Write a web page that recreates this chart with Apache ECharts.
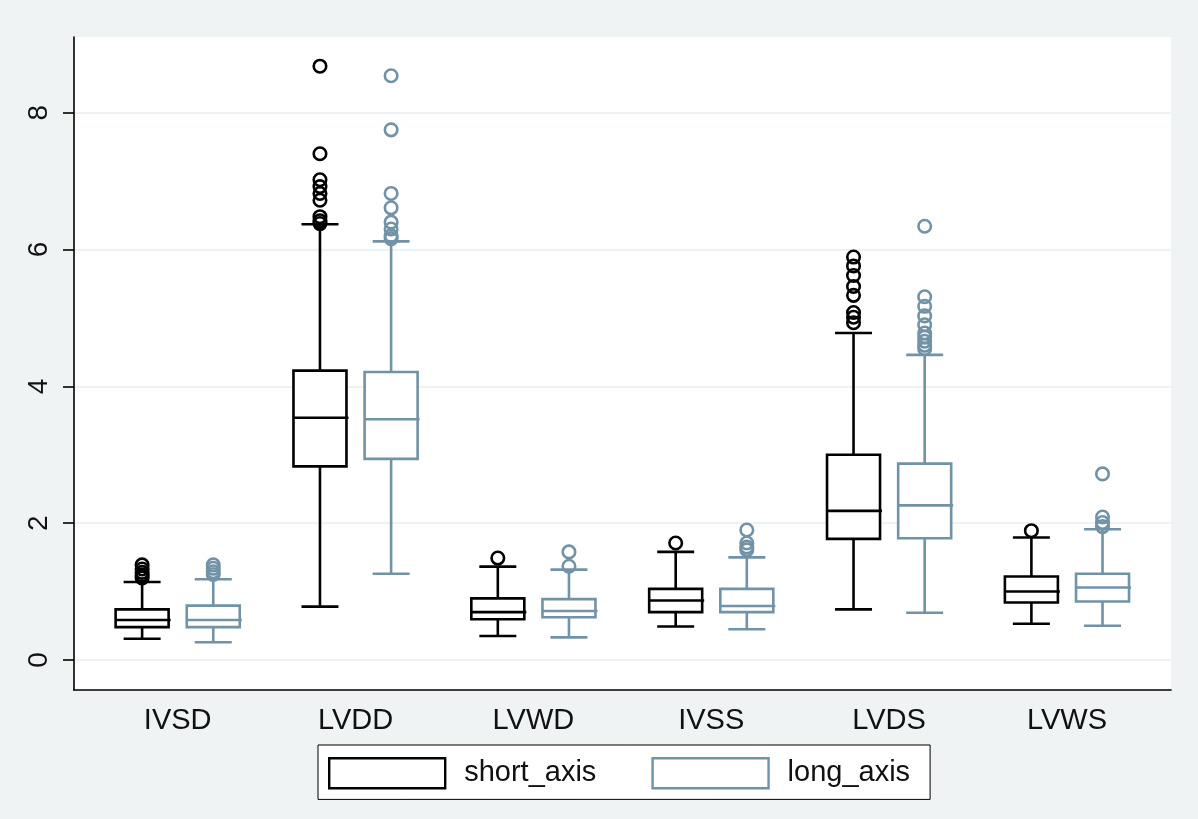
<!DOCTYPE html>
<html>
<head>
<meta charset="utf-8">
<script src="https://cdn.jsdelivr.net/npm/echarts@6/dist/echarts.min.js"></script>
<style>
html,body{margin:0;padding:0;background:#eff3f4;}
#chart{width:1198px;height:819px;}
</style>
</head>
<body>
<div id="chart"></div>
<script>
// ---------- data ----------
const categories = ['IVSD', 'LVDD', 'LVWD', 'IVSS', 'LVDS', 'LVWS'];
const seriesNames = ['short_axis', 'long_axis'];
const yTicks = [0, 2, 4, 6, 8];

// [lower whisker, Q1, median, Q3, upper whisker]
const shortStats = [
  [0.31, 0.48, 0.585, 0.74, 1.14],
  [0.78, 2.83, 3.54, 4.23, 6.37],
  [0.35, 0.595, 0.70, 0.90, 1.365],
  [0.49, 0.70, 0.87, 1.04, 1.58],
  [0.74, 1.77, 2.18, 3.00, 4.78],
  [0.53, 0.84, 1.00, 1.22, 1.79]
];
const longStats = [
  [0.26, 0.48, 0.585, 0.795, 1.18],
  [1.26, 2.94, 3.52, 4.21, 6.12],
  [0.33, 0.625, 0.715, 0.89, 1.32],
  [0.45, 0.70, 0.79, 1.04, 1.50],
  [0.69, 1.78, 2.26, 2.87, 4.46],
  [0.50, 0.855, 1.06, 1.26, 1.91]
];
const shortOutliers = [
  [1.39, 1.33, 1.28, 1.24, 1.20],
  [8.68, 7.40, 7.02, 6.92, 6.82, 6.72, 6.48, 6.42, 6.38],
  [1.49],
  [1.71],
  [5.89, 5.76, 5.62, 5.46, 5.33, 5.08, 5.01, 4.93],
  [1.89]
];
const longOutliers = [
  [1.39, 1.34, 1.29, 1.25],
  [8.54, 7.75, 6.82, 6.61, 6.40, 6.30, 6.20, 6.16],
  [1.58, 1.37],
  [1.90, 1.71, 1.65, 1.61],
  [6.34, 5.31, 5.17, 5.03, 4.90, 4.78, 4.72, 4.66, 4.60, 4.55],
  [2.72, 2.09, 2.01, 1.95]
];

// ---------- layout / style constants ----------
const COLORS = ['#000000', '#7292a6'];
const OFFSETS = [-0.2, 0.2];      // position of each box inside its group (x units)
const BOX_W = 0.298;              // box width (x units)
const CAP_W = 0.208;              // whisker cap width (x units)
const LW = 2.6;
const FONT = "'Liberation Sans', Arial, Helvetica, sans-serif";

function boxRenderer(offset, color) {
  return function (params, api) {
    const x = api.value(0) + offset;
    const lo = api.coord([x, api.value(1)]);
    const q1 = api.coord([x, api.value(2)]);
    const md = api.coord([x, api.value(3)]);
    const q3 = api.coord([x, api.value(4)]);
    const hi = api.coord([x, api.value(5)]);
    const bw = api.size([BOX_W, 0])[0];
    const cw = api.size([CAP_W, 0])[0];
    const cx = lo[0];
    const st = { stroke: color, lineWidth: LW, fill: null };
    return {
      type: 'group',
      children: [
        { type: 'line', shape: { x1: cx, y1: q3[1], x2: cx, y2: hi[1] }, style: st },
        { type: 'line', shape: { x1: cx - cw / 2, y1: hi[1], x2: cx + cw / 2, y2: hi[1] }, style: st },
        { type: 'line', shape: { x1: cx, y1: q1[1], x2: cx, y2: lo[1] }, style: st },
        { type: 'line', shape: { x1: cx - cw / 2, y1: lo[1], x2: cx + cw / 2, y2: lo[1] }, style: st },
        { type: 'rect', shape: { x: cx - bw / 2, y: q3[1], width: bw, height: q1[1] - q3[1] },
          style: { stroke: color, lineWidth: LW, fill: '#ffffff' } },
        { type: 'line', shape: { x1: cx - bw / 2, y1: md[1], x2: cx + bw / 2 + 2, y2: md[1] }, style: st }
      ]
    };
  };
}

const statsList = [shortStats, longStats];
const outlierList = [shortOutliers, longOutliers];

const series = [];
statsList.forEach(function (stats, s) {
  series.push({
    name: seriesNames[s],
    type: 'custom',
    renderItem: boxRenderer(OFFSETS[s], COLORS[s]),
    itemStyle: { color: '#ffffff', borderColor: COLORS[s], borderWidth: 2 },
    encode: { x: 0, y: [1, 2, 3, 4, 5] },
    data: stats.map(function (row, i) { return [i + 1].concat(row); }),
    z: 2
  });
});
outlierList.forEach(function (outs, s) {
  const pts = [];
  outs.forEach(function (arr, i) {
    arr.forEach(function (v) { pts.push([i + 1 + OFFSETS[s], v]); });
  });
  series.push({
    name: seriesNames[s] + ' outliers',
    type: 'scatter',
    symbol: 'circle',
    symbolSize: 12.5,
    itemStyle: { color: 'rgba(255,255,255,0)', borderColor: COLORS[s], borderWidth: 2.6, opacity: 1 },
    data: pts,
    z: 3
  });
});

const chart = echarts.init(document.getElementById('chart'), null, { renderer: 'canvas' });
chart.setOption({
  animation: false,
  backgroundColor: '#eff3f4',
  textStyle: { fontFamily: FONT },
  grid: {
    left: 74, right: 27, top: 37, bottom: 129,
    show: true, backgroundColor: '#ffffff', borderWidth: 0
  },
  xAxis: {
    type: 'value',
    min: 0.417, max: 6.585,
    axisLine: { show: true, onZero: false, lineStyle: { color: '#000', width: 1.6 } },
    axisTick: { show: false },
    splitLine: { show: false },
    axisLabel: {
      customValues: categories.map(function (c, i) { return i + 1; }),
      formatter: function (v) { return categories[Math.round(v) - 1] || ''; },
      fontSize: 29, color: '#111', fontFamily: FONT, margin: 16
    }
  },
  yAxis: {
    type: 'value',
    min: -0.439, max: 9.107,
    splitNumber: 5,
    axisLine: { show: true, onZero: false, lineStyle: { color: '#000', width: 1.6 } },
    axisTick: { show: true, length: 11, customValues: yTicks, lineStyle: { color: '#000', width: 1.6 } },
    splitLine: { show: true, lineStyle: { color: '#edf2f3', width: 2 } },
    axisLabel: {
      customValues: yTicks,
      rotate: 90, fontSize: 28, color: '#111', fontFamily: FONT, margin: 21
    }
  },
  legend: {
    data: seriesNames.map(function (n, s) {
      return { name: n, icon: 'rect', itemStyle: { color: '#ffffff', borderColor: COLORS[s], borderWidth: 2.4 } };
    }),
    left: 318, top: 745,
    orient: 'horizontal',
    padding: [12, 20, 10, 10],
    itemWidth: 116, itemHeight: 30, itemGap: 55,
    backgroundColor: '#ffffff', borderColor: '#000', borderWidth: 1,
    selectedMode: false,
    textStyle: { fontSize: 29, color: '#111', fontFamily: FONT, padding: [0, 0, 0, 14] }
  },
  series: series
});
</script>
</body>
</html>
